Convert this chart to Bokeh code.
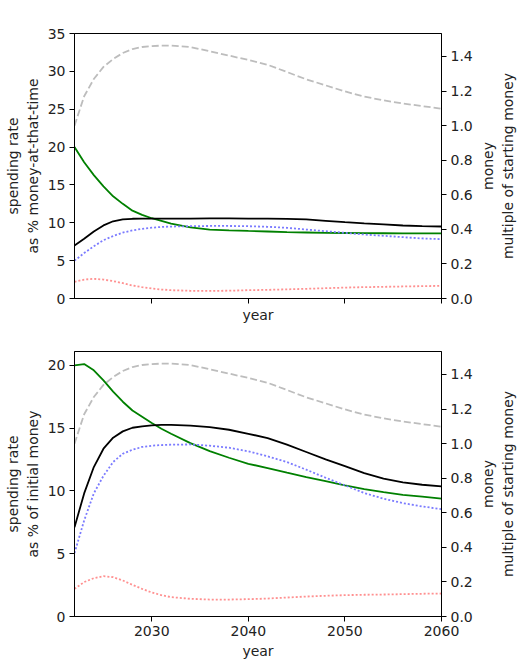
from bokeh.plotting import figure
from bokeh.models import Range1d, LinearAxis, FixedTicker, PrintfTickFormatter
from bokeh.layouts import column, row
from bokeh.embed import file_html
from bokeh.resources import INLINE

years = [2022, 2023, 2024, 2025, 2026, 2027, 2028, 2029, 2030, 2031, 2032,
         2034, 2036, 2038, 2040, 2042, 2044, 2046, 2048, 2050, 2052, 2054,
         2056, 2058, 2060]

# top panel: spending rate as % of money-at-that-time
green_top = [20.0, 18.0, 16.3, 14.8, 13.5, 12.5, 11.6, 11.05, 10.6, 10.26, 9.9,
             9.4, 9.1, 9.0, 8.92, 8.85, 8.76, 8.72, 8.67, 8.65, 8.63, 8.62,
             8.61, 8.59, 8.59]
black_top = [7.0, 7.9, 8.85, 9.65, 10.2, 10.44, 10.53, 10.55, 10.55, 10.55, 10.55,
             10.56, 10.57, 10.57, 10.56, 10.54, 10.51, 10.44, 10.26, 10.08, 9.91, 9.78,
             9.64, 9.55, 9.51]
blue_top = [5.0, 6.0, 6.9, 7.7, 8.25, 8.7, 9.0, 9.2, 9.35, 9.45, 9.5,
            9.55, 9.58, 9.58, 9.55, 9.47, 9.34, 9.11, 8.89, 8.67, 8.45, 8.28,
            8.1, 7.93, 7.84]
red_top = [2.2, 2.5, 2.6, 2.5, 2.3, 2.03, 1.72, 1.5, 1.32, 1.19, 1.1,
           1.02, 1.0, 1.03, 1.1, 1.14, 1.21, 1.28, 1.36, 1.44, 1.5, 1.54,
           1.59, 1.63, 1.67]

# bottom panel: spending rate as % of initial money
green_bot = [20.0, 20.1, 19.6, 18.8, 17.9, 17.1, 16.4, 15.9, 15.4, 14.95, 14.55,
             13.8, 13.17, 12.64, 12.16, 11.82, 11.45, 11.1, 10.78, 10.44, 10.15, 9.91,
             9.69, 9.54, 9.38]
black_bot = [7.1, 9.8, 11.9, 13.36, 14.24, 14.74, 15.03, 15.14, 15.22, 15.25, 15.25,
             15.19, 15.08, 14.87, 14.55, 14.21, 13.68, 13.1, 12.51, 11.98, 11.42, 10.97,
             10.68, 10.49, 10.36]
blue_bot = [5.05, 7.65, 9.8, 11.2, 12.3, 12.96, 13.28, 13.5, 13.6, 13.65, 13.68,
            13.7, 13.6, 13.44, 13.15, 12.75, 12.3, 11.69, 11.05, 10.44, 9.83, 9.38,
            9.03, 8.76, 8.55]
red_bot = [2.2, 2.74, 3.05, 3.21, 3.13, 2.87, 2.52, 2.2, 1.91, 1.7, 1.54,
           1.41, 1.35, 1.35, 1.38, 1.43, 1.51, 1.59, 1.65, 1.7, 1.73, 1.75,
           1.78, 1.81, 1.83]

# money as multiple of starting money (right axis, both panels)
money = [1.0, 1.17, 1.27, 1.34, 1.385, 1.42, 1.443, 1.455, 1.46, 1.463, 1.463,
         1.455, 1.43, 1.405, 1.38, 1.352, 1.31, 1.268, 1.233, 1.198, 1.168, 1.146,
         1.128, 1.113, 1.098]

x_ticks = [2030, 2040, 2050, 2060]
money_ticks = [0.0, 0.2, 0.4, 0.6, 0.8, 1.0, 1.2, 1.4]
right_label = "money\nmultiple of starting money"

FONT = "DejaVu Sans"
FS = "14px"
TXT = "#222222"
MAIN_W = 477
LAB_W = 519 - MAIN_W


def style_axis(ax):
    ax.axis_line_color = "black"
    ax.major_tick_line_color = "black"
    ax.minor_tick_line_color = None
    ax.major_tick_out = 5
    ax.major_tick_in = 0
    ax.major_label_standoff = 4
    ax.major_label_text_font = FONT
    ax.major_label_text_font_size = FS
    ax.major_label_text_color = TXT
    ax.axis_label_text_font = FONT
    ax.axis_label_text_font_size = FS
    ax.axis_label_text_font_style = "normal"
    ax.axis_label_text_color = TXT


def make_panel(height, border_top, border_bottom, left_max, left_ticks, left_label,
               green, black, blue, red, show_xlabels):
    p = figure(width=MAIN_W, height=height, output_backend="svg", toolbar_location=None,
               x_range=Range1d(2022, 2060), y_range=Range1d(0, left_max),
               min_border_left=74, min_border_right=MAIN_W - 74 - 367,
               min_border_top=border_top, min_border_bottom=border_bottom)
    p.extra_y_ranges = {"money": Range1d(0, 1.533)}
    p.grid.visible = False
    p.outline_line_color = "black"
    p.outline_line_alpha = 1.0
    p.background_fill_color = "white"
    p.border_fill_color = "white"

    xa = p.xaxis[0]
    style_axis(xa)
    xa.axis_label = "year"
    xa.axis_label_standoff = 4
    if show_xlabels:
        xa.ticker = FixedTicker(ticks=x_ticks)
    else:
        # tick marks without labels (drawn as minor ticks)
        xa.ticker = FixedTicker(ticks=[], minor_ticks=x_ticks)
        xa.minor_tick_line_color = "black"
        xa.minor_tick_out = 5
        xa.minor_tick_in = 0
        xa.major_label_standoff = 0
        xa.axis_label_standoff = 3
    ya = p.yaxis[0]
    style_axis(ya)
    ya.ticker = FixedTicker(ticks=left_ticks)
    ya.axis_label = left_label
    ya.axis_label_standoff = 4

    right = LinearAxis(y_range_name="money", ticker=FixedTicker(ticks=money_ticks),
                       formatter=PrintfTickFormatter(format="%.1f"))
    style_axis(right)
    p.add_layout(right, "right")

    p.line(years, money, y_range_name="money", line_color="#bdbdbd",
           line_width=1.8, line_dash="7 3")
    p.line(years, green, line_color="green", line_width=1.8)
    p.line(years, black, line_color="black", line_width=1.8)
    p.line(years, blue, line_color="#7b7bff", line_width=1.8, line_dash="2 2")
    p.line(years, red, line_color="#ff9090", line_width=1.8, line_dash="2 2")

    # narrow companion figure carrying the right-hand axis title (read bottom-to-top)
    q = figure(width=LAB_W, height=height, output_backend="svg", toolbar_location=None,
               x_range=Range1d(0, 1), y_range=Range1d(0, 1),
               min_border_left=LAB_W - 6, min_border_right=0,
               min_border_top=border_top, min_border_bottom=border_bottom)
    q.grid.visible = False
    q.outline_line_color = None
    q.background_fill_color = "white"
    q.border_fill_color = "white"
    q.xaxis.visible = False
    qa = q.yaxis[0]
    style_axis(qa)
    qa.ticker = FixedTicker(ticks=[])
    qa.axis_label = right_label
    qa.axis_line_color = None
    qa.major_tick_line_color = None
    qa.major_tick_out = 0
    qa.major_label_standoff = 0
    qa.axis_label_standoff = 0
    return row(p, q, spacing=0)


top = make_panel(325, 33, 27, 35, [0, 5, 10, 15, 20, 25, 30, 35],
                 "spending rate\nas % money-at-that-time",
                 green_top, black_top, blue_top, red_top, False)
bot = make_panel(345, 26, 54, 21.1, [0, 5, 10, 15, 20],
                 "spending rate\nas % of initial money",
                 green_bot, black_bot, blue_bot, red_bot, True)

layout = column(top, bot, spacing=0)
open("out.html", "w").write(file_html(layout, INLINE))
